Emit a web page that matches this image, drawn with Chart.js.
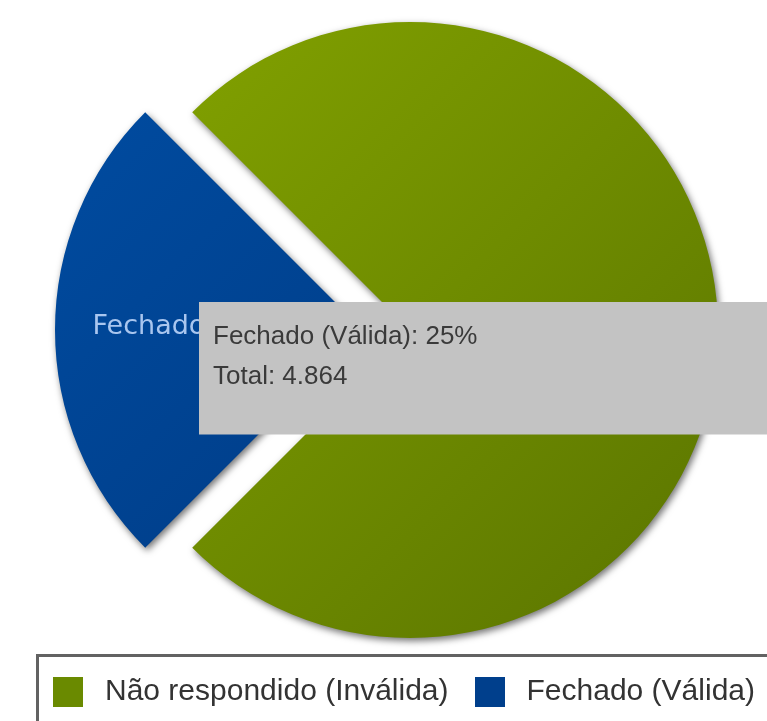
<!DOCTYPE html>
<html>
<head>
<meta charset="utf-8">
<script src="https://cdn.jsdelivr.net/npm/chart.js@4/dist/chart.umd.min.js"></script>
<style>
  html, body { margin: 0; padding: 0; background: #fff; overflow: hidden; }
  #wrap { width: 793px; height: 721px; }
</style>
</head>
<body>
<div id="wrap"><canvas id="pieChart" width="793" height="721"></canvas></div>
<script>
// dados
const rotulos = ['Não respondido (Inválida)', 'Fechado (Válida)'];
const percentuais = [75, 25];
const total = 4864;

const coresBase = ['#6f8f00', '#00428f'];
const gradientes = [['#84a400', '#5a7400'], ['#004da3', '#00357a']];

function formatarTotal(n) {
  return String(n).replace(/\B(?=(\d{3})+(?!\d))/g, '.');
}

// quadradinhos da legenda (imagem com margem lateral)
function caixaLegenda(cor) {
  const c = document.createElement('canvas');
  c.width = 30; c.height = 30;
  const g = c.getContext('2d');
  g.fillStyle = cor;
  g.fillRect(0, 0, 30, 30);
  return c;
}
const caixas = [caixaLegenda('#6a8a00'), caixaLegenda('#003f8c')];

function corFatia(context) {
  const chart = context.chart;
  const area = chart.chartArea;
  const i = context.dataIndex;
  if (!area || i === undefined) return coresBase[i] || '#999';
  const cx = (area.left + area.right) / 2;
  const cy = (area.top + area.bottom) / 2;
  const r = 308;
  const grad = chart.ctx.createLinearGradient(cx - r, cy - r, cx + r, cy + r);
  grad.addColorStop(0, gradientes[i][0]);
  grad.addColorStop(1, gradientes[i][1]);
  return grad;
}

const sombra = {
  id: 'sombra',
  beforeDatasetsDraw(chart) {
    const ctx = chart.ctx;
    ctx.save();
    ctx.shadowColor = 'rgba(0,0,0,0.55)';
    ctx.shadowBlur = 7;
    ctx.shadowOffsetX = 2;
    ctx.shadowOffsetY = 3;
  },
  afterDatasetsDraw(chart) {
    chart.ctx.restore();
    // rotulo dentro de cada fatia
    const ctx = chart.ctx;
    const arcs = chart.getDatasetMeta(0).data;
    ctx.save();
    ctx.font = '27px "DejaVu Sans", Verdana, sans-serif';
    ctx.textAlign = 'center';
    ctx.textBaseline = 'middle';
    arcs.forEach((arc, i) => {
      const mid = (arc.startAngle + arc.endAngle) / 2;
      const shift = (arc.options.offset || 0) / 4;
      const d = shift + arc.outerRadius * 0.695;
      ctx.fillStyle = i === 1 ? '#a9c6ef' : '#d6e69a';
      ctx.fillText(rotulos[i].split(' (')[0], arc.x + Math.cos(mid) * d, arc.y + Math.sin(mid) * d - 3);
    });
    ctx.restore();
  }
};

const moldura = {
  id: 'moldura',
  afterDraw(chart) {
    const lg = chart.legend;
    const ctx = chart.ctx;
    ctx.save();
    ctx.strokeStyle = '#626262';
    ctx.lineWidth = 3;
    ctx.beginPath();
    ctx.moveTo(lg.left + 10.5, chart.height + 10);
    ctx.lineTo(lg.left + 10.5, lg.top - 2.5);
    ctx.lineTo(chart.width + 10, lg.top - 2.5);
    ctx.stroke();
    ctx.restore();
  }
};

Chart.Tooltip.positioners.caixaFixa = function() {
  return { x: 199, y: 302 };
};

const pieData = {
  labels: rotulos,
  datasets: [{
    data: percentuais,
    backgroundColor: corFatia,
    hoverBackgroundColor: corFatia,
    borderWidth: 0,
    hoverBorderWidth: 0,
    offset: [0, 188],
    hoverOffset: [0, 188],
    radius: 308
  }]
};

const pie_config = {
  type: 'pie',
  data: pieData,
  options: {
    responsive: false,
    animation: false,
    events: [],
    rotation: -45,
    layout: { padding: { left: 27, right: 0, top: 2, bottom: 4 } },
    plugins: {
      legend: {
        position: 'bottom',
        align: 'start',
        labels: {
          usePointStyle: true,
          pointStyleWidth: 44,
          boxHeight: 30,
          padding: 19,
          color: '#333',
          font: { family: '"Liberation Sans", Arial, sans-serif', size: 30 },
          generateLabels(chart) {
            const itens = Chart.overrides.pie.plugins.legend.labels.generateLabels(chart);
            return itens.map((it, i) => Object.assign(it, { pointStyle: caixas[i] }));
          }
        }
      },
      tooltip: {
        position: 'caixaFixa',
        xAlign: 'left',
        yAlign: 'top',
        caretSize: 0,
        caretPadding: 0,
        cornerRadius: 0,
        displayColors: false,
        backgroundColor: '#c3c3c3',
        bodyColor: '#3a3a3a',
        bodyFont: { family: '"Liberation Sans", Arial, sans-serif', size: 26 },
        bodySpacing: 9,
        padding: { top: 19, bottom: 42, left: 14, right: 300 },
        callbacks: {
          title() { return ''; },
          label(item) {
            return [item.label + ': ' + item.raw + '%', 'Total: ' + formatarTotal(total)];
          }
        }
      }
    }
  },
  plugins: [sombra, moldura]
};

var pieChart = new Chart(document.getElementById('pieChart'), pie_config);

pieChart.tooltip.setActiveElements([{ datasetIndex: 0, index: 1 }], { x: 199, y: 302 });
pieChart.update();
</script>
</body>
</html>
